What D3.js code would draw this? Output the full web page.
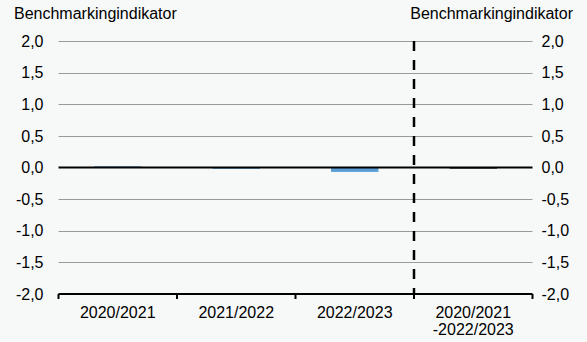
<!DOCTYPE html>
<html><head><meta charset="utf-8">
<script src="https://cdn.jsdelivr.net/npm/d3@7"></script>
<style>
html,body{margin:0;padding:0;background:#f7f9f9;}
svg{display:block;font-family:"Liberation Sans",Arial,sans-serif;}
</style></head>
<body><svg id="c" width="587" height="342"></svg>
<script>
const categories = ["2020/2021", "2021/2022", "2022/2023", "2020/2021\n-2022/2023"];
const values = [0.02, -0.02, -0.07, -0.02];
const barColors = ["#5b9fd6", "#5b9fd6", "#5b9fd6", "#404040"];
const yTicks = [-2.0, -1.5, -1.0, -0.5, 0.0, 0.5, 1.0, 1.5, 2.0];
const axisTitle = "Benchmarkingindikator";

const FS = 16;
const svg = d3.select("#c");
const x0 = 58.5, x1 = 532.5;
const x = d3.scaleBand().domain(categories).range([x0, x1]).paddingInner(0).paddingOuter(0);
const y = d3.scaleLinear().domain([-2, 2]).range([294, 41]);
const fmt = d => d3.format(".1f")(d).replace(".", ",").replace("−", "-");

// gridlines
svg.append("g").selectAll("line").data(yTicks.filter(d => d !== 0 && d !== -2)).join("line")
  .attr("x1", x0).attr("x2", x1)
  .attr("y1", d => Math.round(y(d)) + 0.5).attr("y2", d => Math.round(y(d)) + 0.5)
  .attr("stroke", "#9a9a9a").attr("stroke-width", 1);

// bars
svg.append("g").selectAll("rect").data(values).join("rect")
  .attr("x", (d, i) => x(categories[i]) + x.bandwidth() * 0.3)
  .attr("width", x.bandwidth() * 0.4)
  .attr("y", d => Math.min(y(d), y(0)))
  .attr("height", d => Math.max(1, Math.abs(y(d) - y(0))))
  .attr("fill", (d, i) => barColors[i]);

// zero line
svg.append("line").attr("x1", x0).attr("x2", x1)
  .attr("y1", y(0)).attr("y2", y(0)).attr("stroke", "#000").attr("stroke-width", 2);

// dashed separator
const sepX = x(categories[3]);
svg.append("line").attr("x1", sepX).attr("x2", sepX)
  .attr("y1", y(2)).attr("y2", y(-2))
  .attr("stroke", "#000").attr("stroke-width", 2.5).attr("stroke-dasharray", "10,9");

// bottom axis
const xAxis = svg.append("g").attr("transform", `translate(0,${y(-2)})`)
  .call(d3.axisBottom(x).tickSize(0).tickFormat(""));
xAxis.select(".domain").remove();
svg.append("line").attr("x1", x0).attr("x2", x1).attr("y1", y(-2)).attr("y2", y(-2))
  .attr("stroke", "#000").attr("stroke-width", 2);
const bounds = categories.map(c => x(c)).concat([x1]);
svg.append("g").selectAll("line").data(bounds).join("line")
  .attr("x1", d => d).attr("x2", d => d).attr("y1", y(-2)).attr("y2", y(-2) + 5)
  .attr("stroke", "#000").attr("stroke-width", 2);

// category labels
const lab = svg.append("g").selectAll("text").data(categories).join("text")
  .attr("text-anchor", "middle").attr("font-size", FS).attr("fill", "#000");
lab.each(function(c) {
  const t = d3.select(this);
  c.split("\n").forEach((line, k) => {
    t.append("tspan").attr("x", x(c) + x.bandwidth() / 2).attr("y", 318 + k * 17).text(line);
  });
});

// y axes labels
const yl = d3.axisLeft(y).tickValues(yTicks).tickFormat(fmt).tickSize(0).tickPadding(15);
const gL = svg.append("g").attr("transform", `translate(${x0},0)`).call(yl);
gL.select(".domain").remove();
gL.selectAll("text").attr("font-size", FS).attr("font-family", "Liberation Sans, Arial, sans-serif").attr("fill", "#000");
const yr = d3.axisRight(y).tickValues(yTicks).tickFormat(fmt).tickSize(0).tickPadding(9);
const gR = svg.append("g").attr("transform", `translate(${x1},0)`).call(yr);
gR.select(".domain").remove();
gR.selectAll("text").attr("font-size", FS).attr("font-family", "Liberation Sans, Arial, sans-serif").attr("fill", "#000");

// titles
svg.append("text").attr("x", 14).attr("y", 19).attr("font-size", FS).text(axisTitle);
svg.append("text").attr("x", 573).attr("y", 19).attr("font-size", FS).attr("text-anchor", "end").text(axisTitle);
</script></body></html>
